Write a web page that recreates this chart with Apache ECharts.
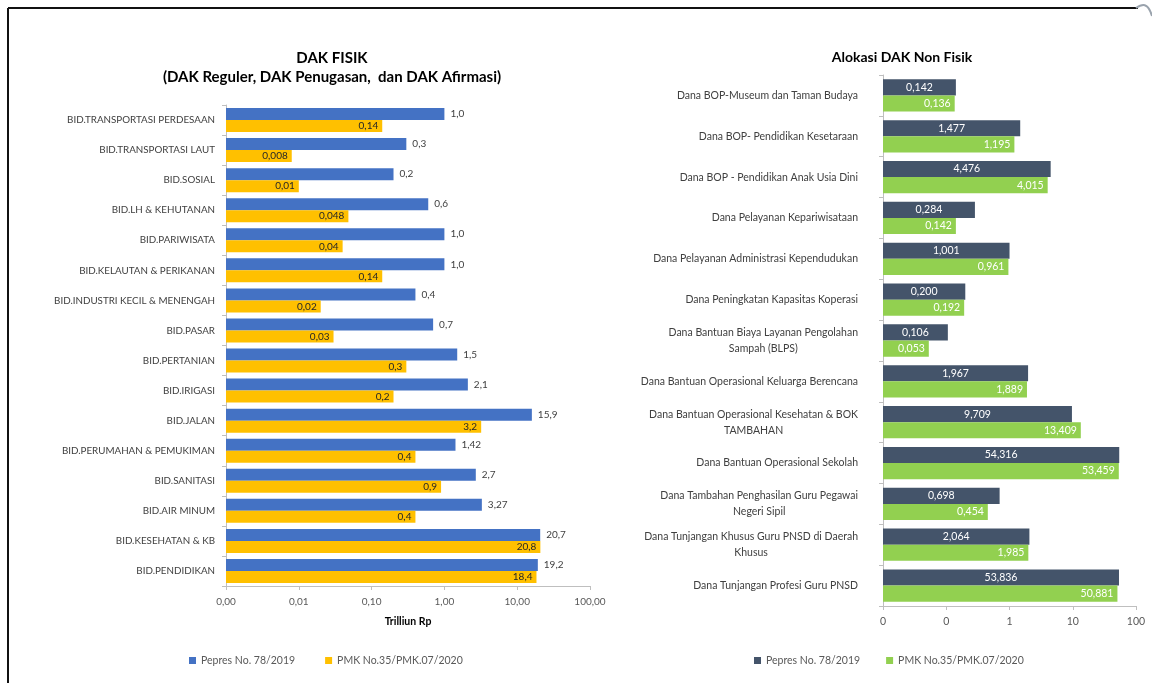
<!DOCTYPE html>
<html><head><meta charset="utf-8">
<script src="https://cdn.jsdelivr.net/npm/echarts@6/dist/echarts.min.js"></script>
<style>html,body{margin:0;padding:0;background:#fff}#c{width:1152px;height:683px}</style>
</head><body><div id="c"></div>
<script>
// ---- DAK FISIK (left) ----
const fisikCategories = [
  'BID.TRANSPORTASI PERDESAAN','BID.TRANSPORTASI LAUT','BID.SOSIAL','BID.LH & KEHUTANAN',
  'BID.PARIWISATA','BID.KELAUTAN & PERIKANAN','BID.INDUSTRI KECIL & MENENGAH','BID.PASAR',
  'BID.PERTANIAN','BID.IRIGASI','BID.JALAN','BID.PERUMAHAN & PEMUKIMAN','BID.SANITASI',
  'BID.AIR MINUM','BID.KESEHATAN & KB','BID.PENDIDIKAN'
];
const fisikPepres = [1.0, 0.3, 0.2, 0.6, 1.0, 1.0, 0.4, 0.7, 1.5, 2.1, 15.9, 1.42, 2.7, 3.27, 20.7, 19.2];
const fisikPMK = [0.14, 0.008, 0.01, 0.048, 0.04, 0.14, 0.02, 0.03, 0.3, 0.2, 3.2, 0.4, 0.9, 0.4, 20.8, 18.4];

// ---- DAK Non Fisik (right) ----
const nonFisikCategories = [
  'Dana BOP-Museum dan Taman Budaya','Dana BOP- Pendidikan Kesetaraan','Dana BOP - Pendidikan Anak Usia Dini',
  'Dana Pelayanan Kepariwisataan','Dana Pelayanan Administrasi Kependudukan','Dana Peningkatan Kapasitas Koperasi',
  'Dana Bantuan Biaya Layanan Pengolahan\nSampah (BLPS)','Dana Bantuan Operasional Keluarga Berencana',
  'Dana Bantuan Operasional Kesehatan & BOK\nTAMBAHAN','Dana Bantuan Operasional Sekolah',
  'Dana Tambahan Penghasilan Guru Pegawai\nNegeri Sipil','Dana Tunjangan Khusus Guru PNSD di Daerah\nKhusus',
  'Dana Tunjangan Profesi Guru PNSD'
];
const nonFisikPepres = [0.142, 1.477, 4.476, 0.284, 1.001, 0.200, 0.106, 1.967, 9.709, 54.316, 0.698, 2.064, 53.836];
const nonFisikPMK = [0.136, 1.195, 4.015, 0.142, 0.961, 0.192, 0.053, 1.889, 13.409, 53.459, 0.454, 1.985, 50.881];

const seriesNames = ['Pepres No. 78/2019', 'PMK No.35/PMK.07/2020'];

const FONT = 'Lato, "Open Sans", sans-serif';
const fmtFisik = v => { let s = String(v); if (s.indexOf('.') < 0) s += '.0'; return s.replace('.', ','); };
const fmtNon = v => v.toFixed(3).replace('.', ',');

const chart = echarts.init(document.getElementById('c'), null, {renderer: 'canvas'});
chart.setOption({
  animation: false,
  textStyle: {fontFamily: FONT},
  title: [
    {text: 'DAK FISIK\n(DAK Reguler, DAK Penugasan,  dan DAK Afirmasi)', left: 327, top: 44, textAlign: 'center',
     textStyle: {fontFamily: FONT, fontSize: 15, fontWeight: 'bold', color: '#000', lineHeight: 19}},
    {text: 'Alokasi DAK Non Fisik', left: 897, top: 45, textAlign: 'center',
     textStyle: {fontFamily: FONT, fontSize: 14, fontWeight: 'bold', color: '#000'}}
  ],
  legend: [
    {data: [seriesNames[0], seriesNames[1]], left: 184, top: 650, icon: 'rect', itemWidth: 7, itemHeight: 7, itemGap: 30,
     textStyle: {fontFamily: FONT, fontSize: 10.5, color: '#595959'},
     selectedMode: false, formatter: n => n},
    {data: [seriesNames[0] + ' ', seriesNames[1] + ' '], left: 749, top: 650, icon: 'rect', itemWidth: 7, itemHeight: 7, itemGap: 26,
     textStyle: {fontFamily: FONT, fontSize: 10.5, color: '#595959'},
     selectedMode: false, formatter: n => n.trim()}
  ],
  grid: [
    {left: 226, right: 562, top: 105, bottom: 97, containLabel: false},
    {left: 883, right: 16, top: 75, bottom: 77, containLabel: false}
  ],
  xAxis: [
    {gridIndex: 0, type: 'log', logBase: 10, min: 0.001, max: 100, startValue: 0.001,
     name: 'Trilliun Rp', nameLocation: 'middle', nameGap: 30,
     nameTextStyle: {fontFamily: FONT, fontSize: 10.5, fontWeight: 'bold', color: '#000'},
     axisLine: {show: true, lineStyle: {color: '#bfbfbf'}},
     axisTick: {show: true, length: 4, lineStyle: {color: '#bfbfbf'}},
     splitLine: {show: false}, minorTick: {show: false},
     axisLabel: {fontFamily: FONT, fontSize: 10, color: '#595959', margin: 11, formatter: v => v.toFixed(2).replace('.', ',')}},
    {gridIndex: 1, type: 'log', logBase: 10, min: 0.01, max: 100, startValue: 0.01,
     axisLine: {show: true, lineStyle: {color: '#bfbfbf'}},
     axisTick: {show: true, length: 4, lineStyle: {color: '#bfbfbf'}},
     splitLine: {show: false},
     axisLabel: {fontFamily: FONT, fontSize: 10.5, color: '#595959', margin: 10, formatter: v => String(Math.round(v))}}
  ],
  yAxis: [
    {gridIndex: 0, type: 'category', data: fisikCategories, inverse: true,
     axisLine: {show: true, lineStyle: {color: '#bfbfbf'}},
     axisTick: {show: true, length: 4, lineStyle: {color: '#bfbfbf'}},
     axisLabel: {fontFamily: FONT, fontSize: 9.8, color: '#404040', margin: 11}},
    {gridIndex: 1, type: 'category', data: nonFisikCategories, inverse: true,
     axisLine: {show: true, lineStyle: {color: '#bfbfbf'}},
     axisTick: {show: true, length: 4, lineStyle: {color: '#bfbfbf'}},
     axisLabel: {fontFamily: FONT, fontSize: 10.5, color: '#404040', margin: 25,
       formatter: v => v.split('\n').map(l => '{c|' + l + '}').join('\n'),
       rich: {c: {align: 'center', fontFamily: FONT, fontSize: 10.5, color: '#404040', lineHeight: 16}}}}
  ],
  series: [
    {name: seriesNames[0], type: 'bar', xAxisIndex: 0, yAxisIndex: 0, data: fisikPepres,
     barCategoryGap: '20%', barGap: '0%', itemStyle: {color: '#4472c4'},
     label: {show: true, position: 'right', distance: 6, fontFamily: FONT, fontSize: 10, color: '#404040', formatter: p => fmtFisik(p.value)}},
    {name: seriesNames[1], type: 'bar', xAxisIndex: 0, yAxisIndex: 0, data: fisikPMK,
     barCategoryGap: '20%', barGap: '0%', itemStyle: {color: '#ffc000'},
     label: {show: true, position: 'insideRight', distance: 4, fontFamily: FONT, fontSize: 10, color: '#262626', formatter: p => fmtFisik(p.value)}},
    {name: seriesNames[0] + ' ', type: 'bar', xAxisIndex: 1, yAxisIndex: 1, data: nonFisikPepres,
     barCategoryGap: '21%', barGap: '0%', itemStyle: {color: '#44546a'},
     label: {show: true, position: 'inside', fontFamily: FONT, fontSize: 10.5, color: '#ffffff', formatter: p => fmtNon(p.value)}},
    {name: seriesNames[1] + ' ', type: 'bar', xAxisIndex: 1, yAxisIndex: 1, data: nonFisikPMK,
     barCategoryGap: '21%', barGap: '0%', itemStyle: {color: '#92d050'},
     label: {show: true, position: 'insideRight', distance: 4, fontFamily: FONT, fontSize: 10.5, color: '#ffffff', formatter: p => fmtNon(p.value)}}
  ],
  graphic: [
    {type: 'line', shape: {x1: 8, y1: 8, x2: 1138, y2: 8}, style: {stroke: '#111', lineWidth: 2}},
    {type: 'line', shape: {x1: 8, y1: 8, x2: 8, y2: 683}, style: {stroke: '#111', lineWidth: 2}},
    {type: 'bezierCurve', shape: {x1: 1136, y1: 8, cpx1: 1142, cpy1: 4, cpx2: 1148, cpy2: 2, x2: 1152, y2: 16},
     style: {stroke: '#9aa3ad', lineWidth: 2, fill: null}}
  ]
});
</script></body></html>
